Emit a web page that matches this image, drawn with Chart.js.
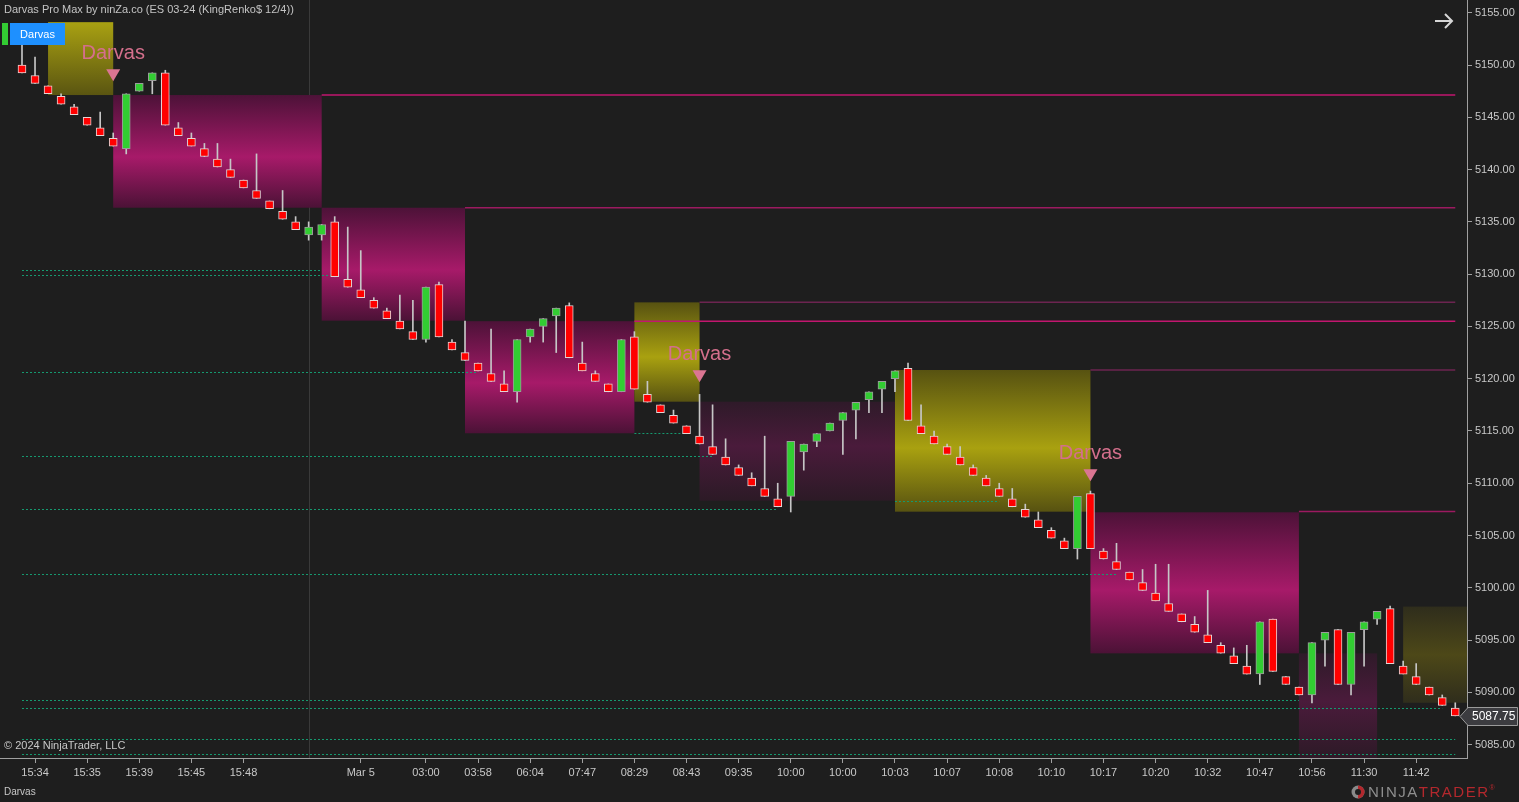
<!DOCTYPE html>
<html><head><meta charset="utf-8">
<script src="https://cdn.jsdelivr.net/npm/chart.js@4.4.1/dist/chart.umd.min.js"></script>
<style>
html,body{margin:0;padding:0;background:#1e1e1e;overflow:hidden}
#wrap{position:relative;width:1519px;height:802px}
canvas{display:block}
</style></head><body>
<div id="wrap"><canvas id="c" width="1519" height="802"></canvas></div>
<script>
// ---------- DATA ----------
const opens=[5150,5149,5148,5147,5146,5145,5144,5143,5142,5147.5,5148.5,5149.25,5144,5143,5142,5141,5140,5139,5138,5137,5136,5135,5133.75,5133.75,5135,5129.5,5128.5,5127.5,5126.5,5125.5,5124.5,5123.75,5129,5123.5,5122.5,5121.5,5120.5,5119.5,5118.75,5124,5125,5126,5127,5121.5,5120.5,5119.5,5118.75,5124,5118.5,5117.5,5116.5,5115.5,5114.5,5113.5,5112.5,5111.5,5110.5,5109.5,5108.5,5108.75,5113,5114,5115,5116,5117,5118,5119,5120,5121,5115.5,5114.5,5113.5,5112.5,5111.5,5110.5,5109.5,5108.5,5107.5,5106.5,5105.5,5104.5,5103.75,5109,5103.5,5102.5,5101.5,5100.5,5099.5,5098.5,5097.5,5096.5,5095.5,5094.5,5093.5,5092.5,5091.75,5097,5091.5,5090.5,5089.75,5095,5096,5090.75,5096,5097,5098,5092.5,5091.5,5090.5,5089.5,5088.5];
const highs=[5152,5150.75,5148,5147.25,5146.25,5145,5145.5,5143.5,5147.25,5148.25,5149.25,5149.5,5144.5,5143.5,5142.5,5142.5,5141,5139,5141.5,5137,5138,5135.5,5135,5134.75,5135.5,5134.5,5132.25,5127.75,5126.75,5128,5127.5,5128.75,5129.25,5123.75,5125.5,5121.5,5124.75,5120.75,5123.75,5124.75,5125.75,5126.75,5127.25,5123.5,5120.75,5119.5,5123.75,5124.5,5119.75,5117.5,5117,5115.5,5118.5,5117.5,5114.25,5111.75,5111,5114.5,5110,5114,5113.75,5114.75,5115.75,5116.75,5117.75,5118.75,5119.75,5120.75,5121.5,5117.5,5115,5113.75,5113.5,5111.75,5110.75,5110,5109.5,5108,5107.25,5105.75,5104.75,5108.75,5109.25,5103.75,5104.25,5101.5,5101.75,5102.25,5102.25,5097.5,5097.25,5099.75,5094.75,5094.25,5094.5,5096.75,5097,5091.5,5090.5,5094.75,5095.75,5096,5095.75,5096.75,5097.75,5098.25,5093,5092.75,5090.5,5089.75,5089];
const lows=[5149.25,5148.25,5147.25,5146.25,5145.25,5144.25,5143.25,5142.25,5141.5,5147.5,5147.25,5144.25,5143.25,5142.25,5141.25,5140.25,5139.25,5138.25,5137.25,5136.25,5135.25,5134.25,5133.25,5133.25,5129.75,5128.75,5127.75,5126.75,5125.75,5124.75,5123.75,5123.5,5124,5122.75,5121.75,5120.75,5119.75,5118.75,5117.75,5123.5,5123.5,5122.5,5122,5120.75,5119.75,5118.75,5118.75,5119,5117.75,5116.75,5115.75,5114.75,5113.75,5112.75,5111.75,5110.75,5109.75,5108.75,5107.75,5107.25,5111.25,5113.5,5115,5112.75,5114.25,5116.75,5116.75,5118.75,5116,5114.75,5113.75,5112.75,5111.75,5110.75,5109.75,5108.75,5107.75,5106.75,5105.75,5104.75,5103.75,5102.75,5103.75,5102.75,5101.75,5100.75,5099.75,5098.75,5097.75,5096.75,5095.75,5094.75,5093.75,5092.75,5091.75,5090.75,5092,5090.75,5089.75,5089,5092.5,5090.75,5089.75,5092.5,5096.5,5092.75,5091.75,5090.75,5089.75,5088.75,5087.75];
const closes=[5149.25,5148.25,5147.25,5146.25,5145.25,5144.25,5143.25,5142.25,5147.25,5148.25,5149.25,5144.25,5143.25,5142.25,5141.25,5140.25,5139.25,5138.25,5137.25,5136.25,5135.25,5134.25,5134.5,5134.75,5129.75,5128.75,5127.75,5126.75,5125.75,5124.75,5123.75,5128.75,5124,5122.75,5121.75,5120.75,5119.75,5118.75,5123.75,5124.75,5125.75,5126.75,5122,5120.75,5119.75,5118.75,5123.75,5119,5117.75,5116.75,5115.75,5114.75,5113.75,5112.75,5111.75,5110.75,5109.75,5108.75,5107.75,5114,5113.75,5114.75,5115.75,5116.75,5117.75,5118.75,5119.75,5120.75,5116,5114.75,5113.75,5112.75,5111.75,5110.75,5109.75,5108.75,5107.75,5106.75,5105.75,5104.75,5103.75,5108.75,5103.75,5102.75,5101.75,5100.75,5099.75,5098.75,5097.75,5096.75,5095.75,5094.75,5093.75,5092.75,5091.75,5096.75,5092,5090.75,5089.75,5094.75,5095.75,5090.75,5095.75,5096.75,5097.75,5092.75,5091.75,5090.75,5089.75,5088.75,5087.75];

const xTickBars=[1,5,9,13,17,26,31,35,39,43,47,51,55,59,63,67,71,75,79,83,87,91,95,99,103,107];
const xTickLabels=['15:34','15:35','15:39','15:45','15:48','Mar 5','03:00','03:58','06:04','07:47','08:29','08:43','09:35','10:00','10:00','10:03','10:07','10:08','10:10','10:17','10:20','10:32','10:47','10:56','11:30','11:42'];
const yTicks=[5085,5090,5095,5100,5105,5110,5115,5120,5125,5130,5135,5140,5145,5150,5155];

// Darvas boxes
const boxStart=[2,7,23,34,47,52,67,82,98,106];
const boxEnd=[7,23,34,47,52,67,82,98,104,111];
const boxTop=[5154.1,5147.13,5136.35,5125.5,5127.3,5117.8,5120.83,5107.22,5093.73,5098.2];
const boxBottom=[5147.13,5136.35,5125.55,5114.78,5117.8,5108.33,5107.28,5093.73,5083.5,5089.0];
const boxKind=['bullTop','bear','bear','bear','bull','bearDim','bull','bear','bearDim','bullDim'];

// resistance lines (solid)
const resStart=[23,34,47,52,82,98];
const resEnd=[110,110,110,110,110,110];
const resPrice=[5147.13,5136.35,5125.5,5127.3,5120.83,5107.3];
const resKind=['bright','mid','bright','dim','dim','mid'];

// support lines (dotted)
const supStart=[0,0,0,0,0,0,0,0,0,0,47,67];
const supEnd=[23,24,35,53,58,84,98,109,110,110,51,75];
const supPrice=[5130.37,5129.89,5120.61,5112.58,5107.53,5101.3,5089.27,5088.47,5085.53,5084.1,5114.78,5108.3];

// Darvas signals
const sigBar=[7,52,82];
const sigPrice=[5148.45,5119.65,5110.2];
const sigText=['Darvas','Darvas','Darvas'];

const sessionBreak=[22];
const lastPrice=5087.75;

// ---------- STYLES ----------
const BOX_STYLES={
  bullTop:[[0,'#a9a112'],[1,'#5a5511']],
  bull:[[0,'#575211'],[0.55,'#a9a110'],[1,'#575211']],
  bear:[[0,'#4d1238'],[0.55,'#a71a69'],[1,'#4b1236']],
  bearDim:[[0,'#2f1a29'],[0.45,'#4a1b3b'],[1,'#2c1a26']],
  bullDim:[[0,'#2f2d1c'],[0.5,'#4d4818'],[1,'#2f2d1c']]
};
const RES_COLORS={bright:'#c2166f',mid:'#9c1a60',dim:'#6c2450'};
const FONT='"Liberation Sans", Arial, sans-serif';

const bodyData=closes.map((c,i)=>({x:i,y:[opens[i],c]}));
const wickData=closes.map((c,i)=>({x:i,y:[lows[i],highs[i]]}));
const up=closes.map((c,i)=>c>=opens[i]);

const overlay={
  id:'overlay',
  beforeDraw(chart){
    const c=chart.ctx;c.save();c.fillStyle='#1e1e1e';c.fillRect(0,0,chart.width,chart.height);c.restore();
  },
  beforeDatasetsDraw(chart){
    const {ctx,chartArea:a,scales:{x,y}}=chart;
    ctx.save();
    ctx.beginPath();ctx.rect(a.left,a.top,a.right-a.left,a.bottom-a.top);ctx.clip();
    ctx.strokeStyle='#3a3a3a';ctx.lineWidth=1;
    sessionBreak.forEach(b=>{const px=Math.round(x.getPixelForValue(b))+0.5;ctx.beginPath();ctx.moveTo(px,a.top);ctx.lineTo(px,a.bottom);ctx.stroke();});
    for(let i=0;i<boxStart.length;i++){
      const x0=x.getPixelForValue(boxStart[i]),x1=x.getPixelForValue(boxEnd[i]);
      const y0=y.getPixelForValue(boxTop[i]),y1=y.getPixelForValue(boxBottom[i]);
      const g=ctx.createLinearGradient(0,y0,0,y1);
      BOX_STYLES[boxKind[i]].forEach(([o,c])=>g.addColorStop(o,c));
      ctx.fillStyle=g;ctx.fillRect(x0,y0,x1-x0,y1-y0);
    }
    ctx.strokeStyle='#16996f';ctx.lineWidth=1;ctx.setLineDash([2,2]);
    for(let i=0;i<supStart.length;i++){
      const py=Math.round(y.getPixelForValue(supPrice[i]))+0.5;
      ctx.beginPath();ctx.moveTo(x.getPixelForValue(supStart[i]),py);ctx.lineTo(x.getPixelForValue(supEnd[i]),py);ctx.stroke();
    }
    ctx.setLineDash([]);
    ctx.lineWidth=1.5;
    for(let i=0;i<resStart.length;i++){
      const py=y.getPixelForValue(resPrice[i]);
      ctx.strokeStyle=RES_COLORS[resKind[i]];
      ctx.beginPath();ctx.moveTo(x.getPixelForValue(resStart[i]),py);ctx.lineTo(x.getPixelForValue(resEnd[i]),py);ctx.stroke();
    }
    ctx.restore();
  },
  afterDatasetsDraw(chart){
    const {ctx,scales:{x,y}}=chart;
    ctx.save();
    for(let i=0;i<sigBar.length;i++){
      const px=x.getPixelForValue(sigBar[i]),py=y.getPixelForValue(sigPrice[i]);
      ctx.fillStyle='#db7592';
      ctx.beginPath();ctx.moveTo(px,py);ctx.lineTo(px-7,py-12);ctx.lineTo(px+7,py-12);ctx.closePath();ctx.fill();
      ctx.fillStyle='#d46f8c';ctx.font='20px '+FONT;ctx.textAlign='center';ctx.textBaseline='middle';
      ctx.fillText(sigText[i],px,py-28);
    }
    ctx.restore();
  },
  afterDraw(chart){
    const {ctx,scales:{y}}=chart;
    ctx.save();
    ctx.fillStyle='#c4c4c4';ctx.font='11px '+FONT;ctx.textAlign='left';ctx.textBaseline='middle';
    ctx.fillText('Darvas Pro Max by ninZa.co (ES 03-24 (KingRenko$ 12/4))',4,10);
    ctx.fillStyle='#33cc33';ctx.fillRect(2,23,6,22);
    ctx.fillStyle='#1e90ff';ctx.fillRect(10,23,55,22);
    ctx.fillStyle='#ffffff';ctx.textAlign='center';ctx.font='11px '+FONT;ctx.fillText('Darvas',37.5,34.5);
    ctx.strokeStyle='#d6d6d6';ctx.lineWidth=2;ctx.beginPath();
    ctx.moveTo(1435,21);ctx.lineTo(1452,21);ctx.moveTo(1445,14);ctx.lineTo(1452,21);ctx.lineTo(1445,28);ctx.stroke();
    ctx.fillStyle='#c8c8c8';ctx.textAlign='left';ctx.font='11px '+FONT;ctx.fillText('\u00a9 2024 NinjaTrader, LLC',4,746);
    ctx.font='10px '+FONT;ctx.fillText('Darvas',4,792);
    const cy=Math.round(y.getPixelForValue(lastPrice))+0.5;
    ctx.beginPath();ctx.moveTo(1460,cy);ctx.lineTo(1468,cy-9);ctx.lineTo(1517.5,cy-9);ctx.lineTo(1517.5,cy+9);ctx.lineTo(1468,cy+9);ctx.closePath();
    ctx.fillStyle='#3c3c40';ctx.fill();ctx.strokeStyle='#9a9a9a';ctx.lineWidth=1;ctx.stroke();
    ctx.fillStyle='#ffffff';ctx.font='12px '+FONT;ctx.textAlign='left';ctx.fillText(lastPrice.toFixed(2),1472,cy+0.5);
    ctx.beginPath();ctx.arc(1358,792,6.5,0,Math.PI*2);ctx.fillStyle='#8a8a8a';ctx.fill();
    ctx.beginPath();ctx.arc(1358,792,6.5,-Math.PI/2,Math.PI/2);ctx.fillStyle='#b3282d';ctx.fill();
    ctx.beginPath();ctx.arc(1358,792,3,0,Math.PI*2);ctx.fillStyle='#1e1e1e';ctx.fill();
    ctx.font='15px '+FONT;ctx.textBaseline='middle';
    let px=1368;
    ctx.fillStyle='#8e8e8e';for(const ch of 'NINJA'){ctx.fillText(ch,px,793);px+=ctx.measureText(ch).width+1.5;}
    ctx.fillStyle='#b3282d';for(const ch of 'TRADER'){ctx.fillText(ch,px,793);px+=ctx.measureText(ch).width+1.5;}
    ctx.font='7px '+FONT;ctx.fillText('\u00ae',px,788);
    ctx.restore();
  }
};

Chart.defaults.font.family=FONT;
new Chart(document.getElementById('c'),{
  type:'bar',
  data:{datasets:[
    {data:bodyData,barThickness:8,backgroundColor:up.map(u=>u?'#32cd32':'#ff0000'),borderColor:up.map(u=>u?'#9c9c9c':'#e4d4d4'),borderWidth:1,borderSkipped:false,grouped:false,order:0},
    {data:wickData,barThickness:1,backgroundColor:'#c6c6c6',borderWidth:0,grouped:false,order:1}
  ]},
  options:{
    responsive:false,animation:false,devicePixelRatio:1,
    layout:{padding:0},
    plugins:{legend:{display:false},tooltip:{enabled:false}},
    scales:{
      x:{type:'linear',min:-1.688,max:110.9,offset:false,
        afterBuildTicks:s=>{s.ticks=xTickBars.map(v=>({value:v}));},
        afterFit:s=>{s.height=44;s.paddingLeft=0;s.paddingRight=0;},
        ticks:{callback:(v,i)=>xTickLabels[i],color:'#c8c8c8',font:{size:11},maxRotation:0,autoSkip:false,padding:3},
        grid:{drawOnChartArea:false,tickLength:5,color:'#a0a0a0',offset:false},
        border:{color:'#a0a0a0'}},
      y:{type:'linear',position:'right',min:5083.72,max:5156.22,
        afterBuildTicks:s=>{s.ticks=yTicks.map(v=>({value:v}));},
        afterFit:s=>{s.width=52;s.paddingTop=0;s.paddingBottom=0;},
        ticks:{callback:v=>Number(v).toFixed(2),color:'#c8c8c8',font:{size:11},padding:3},
        grid:{drawOnChartArea:false,tickLength:5,color:'#a0a0a0'},
        border:{color:'#a0a0a0'}}
    }
  },
  plugins:[overlay]
});
</script>
</body></html>
